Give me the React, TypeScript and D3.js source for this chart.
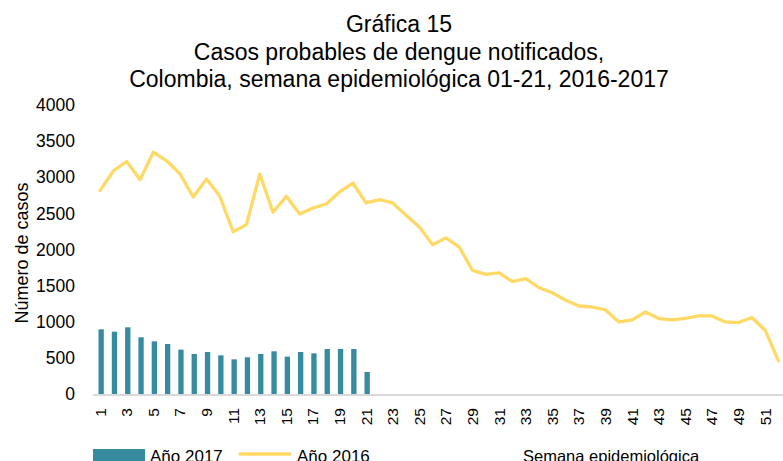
import React from "react";
import * as d3 from "d3";

const weeks: number[] = Array.from({ length: 52 }, (_, i) => i + 1);

const cases2017: number[] = [
  895, 863, 923, 785, 729, 692, 614, 554, 581, 535, 480, 508, 554, 591, 517,
  581, 563, 623, 623, 623, 304,
];

const cases2016: number[] = [
  2818, 3090, 3218, 2966, 3347, 3228, 3048, 2727, 2975, 2736, 2244, 2345, 3044,
  2515, 2736, 2492, 2575, 2630, 2796, 2920, 2644, 2690, 2644, 2473, 2313, 2065,
  2161, 2032, 1710, 1655, 1678, 1556, 1596, 1472, 1402, 1297, 1218, 1204, 1163,
  997, 1025, 1135, 1044, 1025, 1048, 1080, 1080, 997, 989, 1058, 883, 459,
];

const yTicks: number[] = [0, 500, 1000, 1500, 2000, 2500, 3000, 3500, 4000];

const titleLines: string[] = [
  "Gráfica 15",
  "Casos probables de dengue notificados,",
  "Colombia, semana epidemiológica 01-21, 2016-2017",
];

const W = 783;
const H = 461;
const FONT = "'Liberation Sans', Arial, sans-serif";
const BAR_COLOR = "#378b9f";
const LINE_COLOR = "#ffd966";

export default function App() {
  const x = d3
    .scaleBand<number>()
    .domain(weeks)
    .range([93.5, 785.1])
    .padding(0);
  const y = d3.scaleLinear().domain([0, 4000]).range([394, 105]);
  const bw = x.bandwidth();
  const barW = bw * 0.4;

  const line = d3
    .line<number>()
    .x((_, i) => (x(weeks[i]) as number) + bw / 2)
    .y((d) => y(d));

  return (
    <svg
      width={W}
      height={H}
      style={{ position: "absolute", left: 0, top: 0, background: "#fff" }}
      fontFamily={FONT}
    >
      <rect x={0} y={0} width={W} height={H} fill="#fff" />
      {titleLines.map((t, i) => (
        <text
          key={i}
          x={399}
          y={32 + i * 27.7}
          textAnchor="middle"
          fontSize={23}
          fill="#000"
        >
          {t}
        </text>
      ))}

      {yTicks.map((t) => (
        <text
          key={t}
          x={75}
          y={y(t)}
          dy="0.35em"
          textAnchor="end"
          fontSize={17.5}
          fill="#000"
        >
          {t}
        </text>
      ))}

      <text
        transform={`translate(28,253) rotate(-90)`}
        textAnchor="middle"
        fontSize={18}
        fill="#000"
      >
        Número de casos
      </text>

      {cases2017.map((v, i) => (
        <rect
          key={i}
          x={(x(weeks[i]) as number) + bw / 2 - barW / 2 + 1}
          y={y(v)}
          width={barW}
          height={y(0) - y(v)}
          fill={BAR_COLOR}
        />
      ))}

      <line
        x1={93}
        x2={W}
        y1={y(0) + 1}
        y2={y(0) + 1}
        stroke="#d9d9d9"
        strokeWidth={2}
      />

      <path
        d={line(cases2016) || ""}
        fill="none"
        stroke={LINE_COLOR}
        strokeWidth={3.3}
        strokeLinejoin="round"
        strokeLinecap="round"
      />

      {weeks
        .filter((w) => w % 2 === 1)
        .map((w) => (
          <text
            key={w}
            transform={`translate(${(x(w) as number) + bw / 2 + 5.5},408) rotate(-90)`}
            textAnchor="end"
            fontSize={15.5}
            fill="#000"
          >
            {w}
          </text>
        ))}

      <rect x={93} y={449} width={52} height={12} fill={BAR_COLOR} />
      <text x={150} y={461.5} fontSize={17} fill="#000">
        Año 2017
      </text>
      <line
        x1={240}
        x2={290}
        y1={454}
        y2={454}
        stroke={LINE_COLOR}
        strokeWidth={3.3}
        strokeLinecap="round"
      />
      <text x={297} y={461.5} fontSize={17} fill="#000">
        Año 2016
      </text>
      <text x={523} y={462} fontSize={16.5} fill="#000">
        Semana epidemiológica
      </text>
    </svg>
  );
}
